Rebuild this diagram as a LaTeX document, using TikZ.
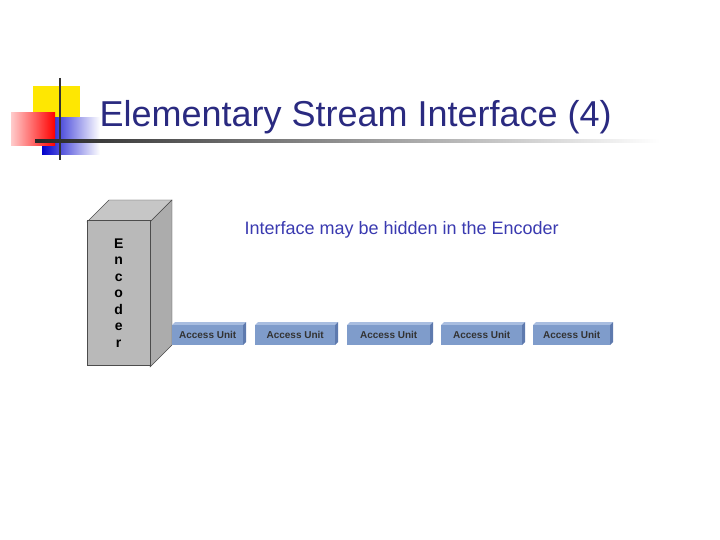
\documentclass[tikz,border=0pt]{standalone}
\usepackage{fontspec}
\setmainfont{Liberation Sans}
\definecolor{ttl}{HTML}{2A2A80}
\definecolor{sub}{HTML}{3A3AB0}
\definecolor{au}{HTML}{7F9CCB}
\definecolor{autop}{HTML}{A8BDE0}
\definecolor{auside}{HTML}{5E7AAE}
\tikzset{aubox/.style={fill=au,minimum width=#1,minimum height=20pt,inner sep=0pt,font=\fontsize{10}{11}\selectfont\bfseries,text=black!80}}
\begin{document}
\begin{tikzpicture}[x=1pt,y=-1pt]
\useasboundingbox (0,0) rectangle (720,540);
% logo
\fill[yellow!90!orange] (33,86) rectangle (80,128);
\shade[left color=blue!80!black,right color=white] (42,118) rectangle (100,155);
\shade[left color=red!20,right color=red] (11,113) rectangle (55,146);
\draw[line width=2pt,black!80] (60,78) -- (60,160);
\shade[left color=black!85,right color=white] (35,140) rectangle (660,142.5);
\node[anchor=west,text=ttl,font=\fontsize{36}{38}\selectfont] (title) at (96,117) {Elementary Stream Interface (4)};
% encoder
\filldraw[fill=gray!45,draw=gray!60!black] (87,222) -- (109,200) -- (172,200) -- (150,222) -- cycle;
\filldraw[fill=gray!65,draw=gray!60!black] (150,222) -- (172,200) -- (172,345) -- (150,367) -- cycle;
\node[draw=gray!60!black,fill=gray!55!white,minimum width=63pt,minimum height=145pt,inner sep=0pt,anchor=north west,font=\bfseries\fontsize{14}{16.5}\selectfont,align=center] (enc) at (87,220) {E\\n\\c\\o\\d\\e\\r};
\node[text=sub,font=\fontsize{18}{20}\selectfont,anchor=west] (sub) at (241,230) {Interface may be hidden in the Encoder};
% access units
\foreach \n/\a/\b in {1/172/246,2/255/338,3/347/433,4/441/525,5/533/613}{
  \fill[autop] (\a,325) -- (\a+3,322) -- (\b,322) -- (\b-3,325) -- cycle;
  \fill[auside] (\b,322) -- (\b,342) -- (\b-3,345) -- (\b-3,325) -- cycle;
  \node[aubox=\b-\a-3,anchor=north west] (au\n) at (\a,325) {Access Unit};
}
\end{tikzpicture}
\end{document}
